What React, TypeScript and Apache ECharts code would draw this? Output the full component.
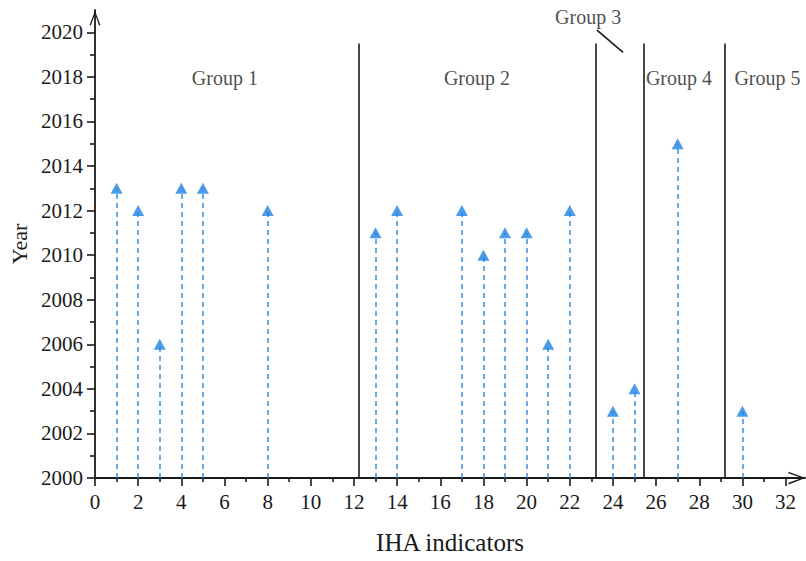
import React, { useEffect, useRef } from "react";
import * as echarts from "echarts";

const indicators = [1, 2, 3, 4, 5, 8, 13, 14, 17, 18, 19, 20, 21, 22, 24, 25, 27, 30];
const years = [2013, 2012, 2006, 2013, 2013, 2012, 2011, 2012, 2012, 2010, 2011, 2011, 2006, 2012, 2003, 2004, 2015, 2003];

const dividerX = [12.24, 23.2, 25.45, 29.19];
const dividerTop = 2019.5;

const groupNames = ["Group 1", "Group 2", "Group 3", "Group 4", "Group 5"];
const groupX = [6.02, 17.7, 22.85, 27.06, 31.16];
const groupY = [2017.95, 2017.95, 2020.68, 2017.95, 2017.95];

const group3Pointer = [[23.26, 2020.1], [24.47, 2019.1]];

const xMajor = [0, 2, 4, 6, 8, 10, 12, 14, 16, 18, 20, 22, 24, 26, 28, 30, 32];
const xMinor = [1, 3, 5, 7, 9, 11, 13, 15, 17, 19, 21, 23, 25, 27, 29, 31];
const yMajor = [2000, 2002, 2004, 2006, 2008, 2010, 2012, 2014, 2016, 2018, 2020];
const yMinor = [2001, 2003, 2005, 2007, 2009, 2011, 2013, 2015, 2017, 2019];

const FONT = "Liberation Serif";
const INK = "#1a1a1a";
const ARROW = "path://M6,0 L12,16 L10.4,16 L6,3.6 L1.6,16 L0,16 Z";

export default function App() {
  const ref = useRef<HTMLDivElement>(null);
  useEffect(() => {
    const chart = echarts.init(ref.current!, null, { renderer: "svg" });
    const axisLineStyle = { color: INK, width: 1.8 };
    const evenOnly = (v: number) => (Math.abs(v - Math.round(v)) < 1e-6 && Math.round(v) % 2 === 0 ? String(Math.round(v)) : "");
    chart.setOption({
      animation: false,
      backgroundColor: "#ffffff",
      textStyle: { fontFamily: FONT },
      grid: { left: 95, right: 1, top: 10, bottom: 83, containLabel: false },
      xAxis: [
        {
          type: "value",
          min: 0,
          max: 32.9,
          interval: 2,
          splitLine: { show: false },
          axisLine: {
            show: true,
            lineStyle: axisLineStyle,
            symbol: ["none", ARROW],
            symbolSize: [13, 17],
            symbolOffset: [0, -8],
          },
          axisTick: { show: true, customValues: xMajor, length: 8, lineStyle: { color: INK, width: 1.6 } },
          axisLabel: { showMaxLabel: false, formatter: evenOnly, margin: 13, fontFamily: FONT, fontSize: 21, color: INK },
          name: "IHA indicators",
          nameLocation: "middle",
          nameGap: 52,
          nameTextStyle: { fontFamily: FONT, fontSize: 25, color: INK },
        },
        {
          type: "value",
          min: 0,
          max: 32.9,
          position: "bottom",
          splitLine: { show: false },
          axisLine: { show: false },
          axisTick: { show: true, customValues: xMinor, length: 4, lineStyle: { color: INK, width: 1.6 } },
          axisLabel: { show: false },
        },
      ],
      yAxis: [
        {
          type: "value",
          min: 2000,
          max: 2021,
          interval: 2,
          splitLine: { show: false },
          axisLine: {
            show: true,
            lineStyle: axisLineStyle,
            symbol: ["none", ARROW],
            symbolSize: [11, 17],
            symbolOffset: [0, -8],
          },
          axisTick: { show: true, customValues: yMajor, length: 8, lineStyle: { color: INK, width: 1.6 } },
          axisLabel: { showMaxLabel: false, formatter: evenOnly, margin: 12, fontFamily: FONT, fontSize: 21, color: INK },
          name: "Year",
          nameLocation: "middle",
          nameGap: 62,
          nameTextStyle: { fontFamily: FONT, fontSize: 22, color: INK },
        },
        {
          type: "value",
          min: 2000,
          max: 2021,
          position: "left",
          splitLine: { show: false },
          axisLine: { show: false },
          axisTick: { show: true, customValues: yMinor, length: 5, lineStyle: { color: INK, width: 1.6 } },
          axisLabel: { show: false },
        },
      ],
      series: [
        {
          type: "scatter",
          name: "Indicators",
          symbol: "triangle",
          symbolSize: [12, 11],
          itemStyle: { color: "#1f82e4" },
          data: indicators.map((x, i) => [x, years[i]]),
          z: 5,
          markLine: {
            silent: true,
            symbol: ["none", "none"],
            label: { show: false },
            lineStyle: { color: "#3a8ee0", width: 1.5, type: [5, 4] },
            data: indicators.map((x, i) => [{ coord: [x, 2000] }, { coord: [x, years[i]] }]),
          },
        },
        {
          type: "scatter",
          name: "Dividers",
          symbolSize: 0,
          data: [],
          markLine: {
            silent: true,
            symbol: ["none", "none"],
            label: { show: false },
            lineStyle: { color: INK, width: 1.6, type: "solid" },
            data: [
              ...dividerX.map((x) => [{ coord: [x, 2000] }, { coord: [x, dividerTop] }]),
              [{ coord: group3Pointer[0] }, { coord: group3Pointer[1] }],
            ],
          },
        },
        {
          type: "scatter",
          name: "Groups",
          symbolSize: 0,
          label: {
            show: true,
            position: "inside",
            formatter: "{b}",
            fontFamily: FONT,
            fontSize: 20,
            color: INK,
          },
          data: groupNames.map((n, i) => ({ name: n, value: [groupX[i], groupY[i]] })),
        },
      ],
    });
    return () => chart.dispose();
  }, []);
  return (
    <div
      ref={ref}
      style={{ position: "fixed", left: 0, top: 0, width: 806, height: 561, background: "#fff" }}
    />
  );
}
